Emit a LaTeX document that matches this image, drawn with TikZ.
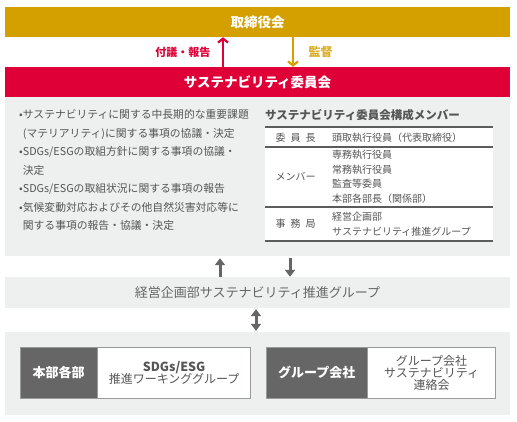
\documentclass[tikz,border=0pt]{standalone}
\usepackage{fontspec}
\setmainfont{Noto Sans CJK JP}
\usetikzlibrary{arrows.meta}

\definecolor{boardgold}{HTML}{D4A000}
\definecolor{cmtered}{HTML}{E00038}
\definecolor{panelgray}{HTML}{EEEFEF}
\definecolor{darkfill}{HTML}{666666}
\definecolor{textgray}{HTML}{555555}
\definecolor{linegray}{HTML}{5C5C5C}
\definecolor{boxline}{HTML}{9A9A9A}

\begin{document}
\begin{tikzpicture}[x=1pt, y=-1pt,
    bar/.style={minimum width=505pt, minimum height=30pt, inner sep=0pt, text=white, font=\fontsize{13.5}{16}\selectfont\bfseries},
    graypanel/.style={fill=panelgray, minimum width=505pt, inner sep=0pt},
    darkbox/.style={draw=boxline, fill=darkfill, text=white, minimum height=51pt, inner sep=0pt, font=\fontsize{13}{15}\selectfont\bfseries},
    whitebox/.style={draw=boxline, fill=white, text=textgray, minimum height=51pt, inner sep=0pt, align=center},
    tabline/.style={linegray, line width=1.2pt},
    tabtext/.style={text=textgray, inner sep=0pt, font=\fontsize{10}{14.5}\selectfont},
    thinarrow/.style={line width=2.2pt, -{Straight Barb[length=4pt, width=10pt]}},
    bigarrow/.style={darkfill, line width=3pt, -{Triangle[length=7pt, width=10pt]}}]
    \useasboundingbox[fill=white] (0,0) rectangle (517,422);

    % 取締役会 / 委員会
    \node[bar, fill=boardgold] (board) at (257.5,22) {取締役会};
    \node[bar, fill=cmtered] (cmte) at (257.5,82) {サステナビリティ委員会};
    \draw[thinarrow, cmtered] ([xshift=-34.5pt]cmte.north) -- ([xshift=-34.5pt]board.south);
    \draw[thinarrow, boardgold] ([xshift=35.5pt]board.south) -- ([xshift=35.5pt]cmte.north);
    \node[text=cmtered, font=\fontsize{11}{13}\selectfont\bfseries, anchor=east] (report) at (214,52) {付議・報告};
    \node[text=boardgold!85, font=\fontsize{12}{14}\selectfont\bfseries, anchor=west] (supervise) at (305,52) {監督};

    % 委員会の内容
    \node[graypanel, minimum height=159pt] (panel) at (257.5,176.5) {};
    \node[tabtext, font=\fontsize{10.8}{18.5}\selectfont, align=left, anchor=north west] (items) at (19,109.5) {%
        •サステナビリティに関する中長期的な重要課題\\
        \hphantom{•}(マテリアリティ)に関する事項の協議・決定\\
        •SDGs/ESGの取組方針に関する事項の協議・\\
        \hphantom{•}決定\\
        •SDGs/ESGの取組状況に関する事項の報告\\
        •気候変動対応およびその他自然災害対応等に\\
        \hphantom{•}関する事項の報告・協議・決定};

    % 構成メンバー
    \node[text=textgray, inner sep=0pt, font=\fontsize{11.5}{14}\selectfont\bfseries, anchor=west] (memtitle) at (265,115) {サステナビリティ委員会構成メンバー};
    \node[fill=white, minimum width=228pt, minimum height=114pt, inner sep=0pt, anchor=north west] (memtable) at (265,127) {};
    \draw[tabline, line width=1.6pt] (265,127) -- (493,127);
    \draw[tabline] (265,147) -- (493,147);
    \draw[tabline] (265,207) -- (493,207);
    \draw[tabline] (265,241) -- (493,241);
    \node[tabtext] (chair) at (295.5,138) {委\hspace{5pt}員\hspace{5pt}長};
    \node[tabtext, anchor=west] (chairname) at (332,138) {頭取執行役員（代表取締役）};
    \node[tabtext] (members) at (295.5,177) {メンバー};
    \node[tabtext, anchor=west, align=left] (memnames) at (332,177) {専務執行役員\\常務執行役員\\監査等委員\\本部各部長（関係部）};
    \node[tabtext] (office) at (295.5,224) {事\hspace{5pt}務\hspace{5pt}局};
    \node[tabtext, anchor=west, align=left] (officename) at (332,224) {経営企画部\\サステナビリティ推進グループ};

    % 推進グループ
    \node[graypanel, minimum height=31pt, text=darkfill, font=\fontsize{13}{15}\selectfont] (group) at (257.5,292.5) {経営企画部サステナビリティ推進グループ};
    \draw[bigarrow] ([xshift=-37.5pt]group.north) -- ([xshift=-37.5pt,yshift=-2pt]panel.south);
    \draw[bigarrow] ([xshift=32.5pt,yshift=-2pt]panel.south) -- ([xshift=32.5pt]group.north);

    % 本部各部・グループ会社
    \node[graypanel, minimum height=83pt] (lower) at (257.5,373.5) {};
    \draw[bigarrow, {Triangle[length=7pt, width=10pt]}-{Triangle[length=7pt, width=10pt]}] ([xshift=-1.5pt,yshift=-1pt]group.south) -- ([xshift=-1.5pt,yshift=1pt]lower.north);
    \node[darkbox, minimum width=77pt, anchor=north west] (depts) at (20,347) {本部各部};
    \node[whitebox, minimum width=153pt, anchor=north west] (wg) at (depts.north east) {{\fontsize{12.5}{14}\selectfont\bfseries SDGs/ESG}\\[-1pt]{\fontsize{12}{14}\selectfont 推進ワーキンググループ}};
    \node[darkbox, minimum width=101pt, anchor=north west] (groupco) at (266,347) {グループ会社};
    \node[whitebox, minimum width=128pt, anchor=north west, font=\fontsize{12}{12}\selectfont] (liaison) at (groupco.north east) {グループ会社\\サステナビリティ\\連絡会};
\end{tikzpicture}
\end{document}
